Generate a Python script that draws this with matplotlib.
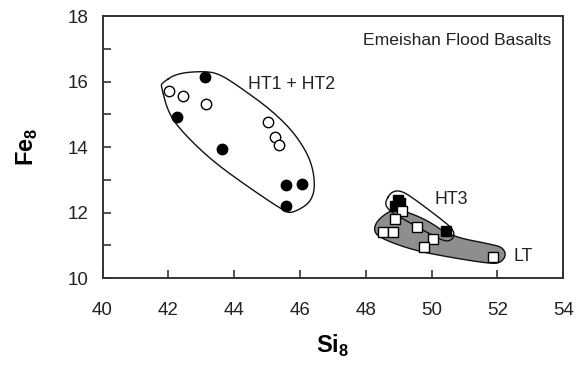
import numpy as np
import matplotlib
matplotlib.use("Agg")
import matplotlib.pyplot as plt
from matplotlib.ticker import MultipleLocator

plt.rcParams['font.family'] = ['Liberation Sans', 'DejaVu Sans']
plt.rcParams['mathtext.fontset'] = 'custom'
plt.rcParams['mathtext.rm'] = 'Liberation Sans'
plt.rcParams['mathtext.bf'] = 'Liberation Sans:bold'

# HT1 + HT2 samples (Si8, Fe8)
ht_filled_si = [43.12, 42.25, 43.63, 45.58, 46.05, 45.57]
ht_filled_fe = [16.13, 14.91, 13.94, 12.84, 12.88, 12.20]
ht_open_si = [42.03, 42.44, 43.15, 45.02, 45.23, 45.37]
ht_open_fe = [15.72, 15.56, 15.31, 14.77, 14.30, 14.06]

# HT3 samples
ht3_si = [48.99, 48.89, 49.05, 50.44]
ht3_fe = [12.40, 12.20, 12.30, 11.43]

# LT samples
lt_si = [49.09, 48.89, 48.52, 48.84, 49.55, 50.04, 49.78, 51.88]
lt_fe = [12.06, 11.82, 11.41, 11.41, 11.55, 11.18, 10.96, 10.65]

# Field envelopes (closed outlines)
env_ht12_si = [41.80, 42.25, 43.06, 43.55, 44.22, 45.22, 45.95, 46.42, 46.45,
               45.78, 45.50, 44.46, 43.33, 42.42, 42.00, 41.78]
env_ht12_fe = [15.95, 16.25, 16.32, 16.24, 15.80, 15.06, 14.29, 13.40, 12.40,
               11.97, 12.06, 12.76, 13.58, 14.46, 15.04, 15.86]
env_ht3_si = [48.60, 48.77, 49.04, 49.38, 50.28, 50.65, 50.70, 50.50, 50.14,
              49.33, 48.82, 48.62]
env_ht3_fe = [12.34, 12.63, 12.68, 12.49, 11.81, 11.50, 11.26, 11.10, 11.24,
              11.70, 11.98, 12.18]
env_lt_si = [48.34, 48.62, 48.94, 49.85, 50.56, 51.88, 52.16, 52.27, 52.10,
             51.78, 50.36, 49.35, 48.40, 48.24]
env_lt_fe = [11.74, 11.98, 12.13, 11.79, 11.28, 11.02, 10.93, 10.70, 10.47,
             10.44, 10.67, 10.88, 11.24, 11.47]

x_ticks = [40, 42, 44, 46, 48, 50, 52, 54]
y_ticks = [10, 12, 14, 16, 18]


def smooth_closed(xs, ys, iterations=3):
    """Chaikin corner cutting on a closed outline."""
    pts = np.column_stack([xs, ys]).astype(float)
    for _ in range(iterations):
        nxt = np.roll(pts, -1, axis=0)
        q = 0.75 * pts + 0.25 * nxt
        r = 0.25 * pts + 0.75 * nxt
        pts = np.empty((2 * len(q), 2))
        pts[0::2] = q
        pts[1::2] = r
    pts = np.vstack([pts, pts[:1]])
    return pts[:, 0], pts[:, 1]


fig = plt.figure(figsize=(5.86, 3.65), dpi=100)
ax = fig.add_axes([0.175, 0.238, 0.786, 0.718])

# envelopes
sx, sy = smooth_closed(env_lt_si, env_lt_fe)
ax.fill(sx, sy, facecolor='#8e8e8e', edgecolor='#111111', linewidth=1.0, zorder=1)
sx, sy = smooth_closed(env_ht3_si, env_ht3_fe)
ax.plot(sx, sy, color='#111111', linewidth=1.0, zorder=2)
sx, sy = smooth_closed(env_ht12_si, env_ht12_fe)
ax.plot(sx, sy, color='#111111', linewidth=1.0, zorder=2)

ms = 7.5
ax.plot(ht_open_si, ht_open_fe, 'o', ms=ms, mfc='white', mec='black', mew=1.0, zorder=3)
ax.plot(ht_filled_si, ht_filled_fe, 'o', ms=ms, mfc='black', mec='black', zorder=3)
ax.plot(ht3_si, ht3_fe, 's', ms=ms - 0.5, mfc='black', mec='black', zorder=4)
ax.plot(lt_si, lt_fe, 's', ms=ms - 0.5, mfc='white', mec='black', mew=1.0, zorder=5)

# field labels
lab = dict(fontsize=12.8, ha='left', va='center', color='#222222')
ax.text(44.42, 15.92, 'HT1 + HT2', **lab)
ax.text(50.08, 12.41, 'HT3', **lab)
ax.text(52.5, 10.67, 'LT', **lab)
ax.text(53.63, 17.24, 'Emeishan Flood Basalts', fontsize=12.6, ha='right',
        va='center', color='#222222')

ax.set_xlim(40, 54)
ax.set_ylim(10, 18)
ax.set_xticks(x_ticks)
ax.set_yticks(y_ticks)
ax.yaxis.set_minor_locator(MultipleLocator(1))
ax.tick_params(axis='both', which='both', direction='in', colors='#333333',
               labelcolor='#222222', labelsize=13.5, width=1.2)
ax.tick_params(axis='both', which='major', length=6)
ax.tick_params(axis='y', which='minor', length=6)
ax.tick_params(axis='y', pad=10)
ax.tick_params(axis='x', pad=17)
for s in ax.spines.values():
    s.set_color('#333333')
    s.set_linewidth(1.4)

ax.set_xlabel(r'$\mathbf{Si}_{\mathbf{8}}$', fontsize=17, labelpad=10)
ax.set_ylabel(r'$\mathbf{Fe}_{\mathbf{8}}$', fontsize=17, labelpad=20)

fig.savefig('out.png', dpi=100)
